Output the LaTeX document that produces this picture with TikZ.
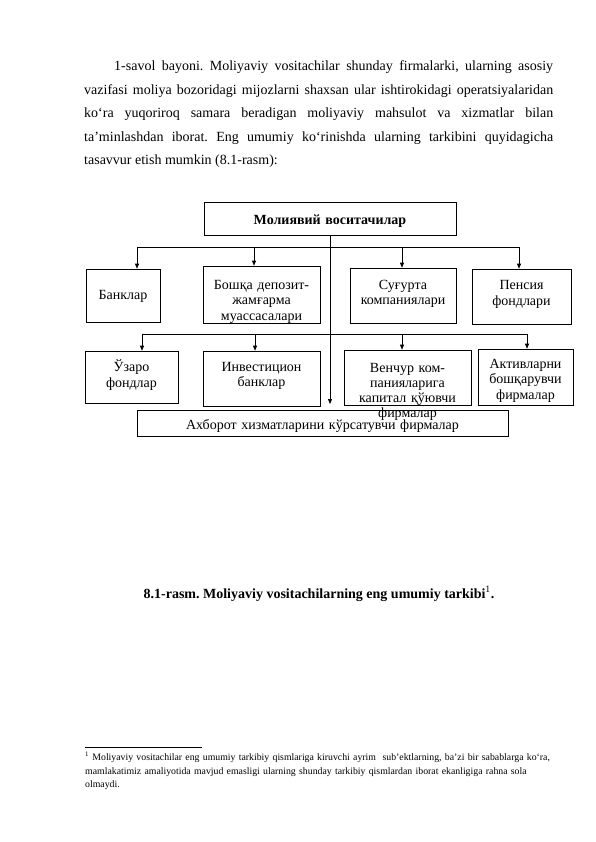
\documentclass[tikz,border=0pt]{standalone}
\usepackage{fontspec}
\setmainfont{Liberation Serif}
\usetikzlibrary{arrows.meta}
\frenchspacing
\begin{document}
\begin{tikzpicture}[x=1pt,y=-1pt,
  box/.style={draw=black,line width=0.6pt,inner xsep=1pt,inner ysep=0pt,align=center,
    font=\fontsize{14}{15.5}\selectfont},
  arr/.style={draw=black,line width=0.6pt,-{Triangle[length=5pt,width=4pt]}},
  body/.style={inner sep=0pt,font=\fontsize{14}{23.4}\selectfont}]
\useasboundingbox[fill=white] (0,0) rectangle (596,842);

% paragraph
\node[body,anchor=base west,text width=469pt,align=justify] (para) at (84,71)
 {\hspace*{30pt}1-savol bayoni. Moliyaviy vositachilar shunday firmalarki, ularning asosiy\linebreak
 vazifasi moliya bozoridagi mijozlarni shaxsan ular ishtirokidagi operatsiyalaridan\linebreak
 ko‘ra yuqoriroq samara beradigan moliyaviy mahsulot va xizmatlar bilan\linebreak
 ta’minlashdan iborat. Eng umumiy ko‘rinishda ularning tarkibini quyidagicha\linebreak
 tasavvur etish mumkin (8.1-rasm):};

% diagram
\node[box,minimum width=252pt,text width=250pt,text height=23pt,text depth=10pt,
  font=\fontsize{14}{15}\selectfont\bfseries] (title) at (330,218.5) {Молиявий воситачилар};

\node[box,minimum width=74pt,text width=72pt,text height=30.3pt,text depth=22.7pt] (bank) at (123,295.5) {Банклар};
\node[box,minimum width=117pt,text width=115pt,text height=23pt,text depth=34.5pt] (bosh) at (261.5,294.75) {Бошқа депозит-\\жамғарма\\муассасалари};
\node[box,minimum width=106pt,text width=104pt,text height=21pt,text depth=34pt] (sug) at (403,295.5) {Суғурта\\компаниялари};
\node[box,minimum width=99pt,text width=97pt,text height=20.5pt,text depth=34.5pt] (pens) at (521.5,296.5) {Пенсия\\фондлари};

\node[box,minimum width=93pt,text width=91pt,text height=20.5pt,text depth=31.5pt] (uzaro) at (131.5,377) {Ўзаро\\фондлар};
\node[box,minimum width=117pt,text width=115pt,text height=20pt,text depth=35pt] (inv) at (261.5,378.5) {Инвестицион\\банклар};
\node[box,minimum width=127pt,text width=125pt,text height=22pt,text depth=33.5pt,
  font=\fontsize{14}{15}\selectfont] (ven) at (407.5,377.75) {Венчур ком-\\панияларига\\капитал қўювчи\\фирмалар};
\node[box,minimum width=95pt,text width=93pt,text height=19.3pt,text depth=36.7pt] (akt) at (525.5,377) {Активларни\\бошқарувчи\\фирмалар};

\node[box,minimum width=371pt,text width=369pt,text height=19.5pt,text depth=6.5pt] (axb) at (322.5,423) {Ахборот хизматларини кўрсатувчи фирмалар};

\coordinate (b1) at (330,247);
\coordinate (b2) at (330,334);
\coordinate (vend) at (330,404);

\draw[arr] (title.south) -- (vend);
\draw[arr] (b1) -| ([xshift=14pt]bank.north);
\draw[arr] (b1) -| ([xshift=-7.5pt]bosh.north);
\draw[arr] (b1) -| ([xshift=-1pt]sug.north);
\draw[arr] (b1) -| ([xshift=-2.5pt]pens.north);
\draw[arr] (b2) -| ([xshift=10.5pt]uzaro.north);
\draw[arr] (b2) -| ([xshift=-6.5pt]inv.north);
\draw[arr] (b2) -| ([xshift=-5.5pt]ven.north);
\draw[arr] (b2) -| ([xshift=1.5pt]akt.north);

% caption
\node[inner sep=0pt,anchor=base,font=\fontsize{14}{16}\selectfont\bfseries] (cap) at (319,598)
 {8.1-rasm. Moliyaviy vositachilarning eng umumiy tarkibi\textsuperscript{\normalfont 1}.};

% footnote
\coordinate (fl) at (85,747);
\coordinate (fr) at (202,747);
\draw[line width=0.6pt] (fl) -- (fr);
\node[inner sep=0pt,anchor=base west,text width=490pt,align=left,font=\fontsize{9.8}{13.6}\selectfont] (foot) at (85,760.5)
 {\textsuperscript{1} Moliyaviy vositachilar eng umumiy tarkibiy qismlariga kiruvchi ayrim\ \ sub’ektlarning, ba’zi bir sabablarga ko‘ra,\\
 mamlakatimiz amaliyotida mavjud emasligi ularning shunday tarkibiy qismlardan iborat ekanligiga rahna sola\\
 olmaydi.};
\end{tikzpicture}
\end{document}
